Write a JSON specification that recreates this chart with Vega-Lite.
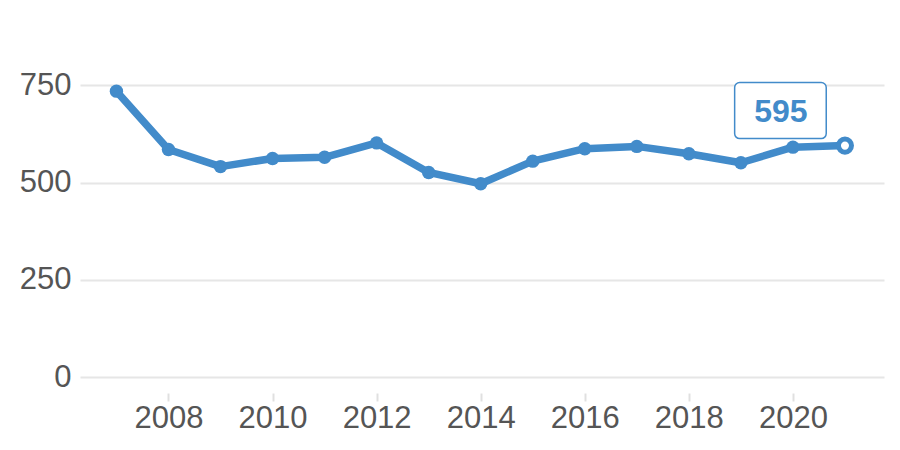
{
  "$schema": "https://vega.github.io/schema/vega-lite/v6.json",
  "width": 804,
  "height": 350,
  "autosize": "none",
  "padding": {"left": 80, "top": 27, "right": 16, "bottom": 73},
  "background": "white",
  "config": {"view": {"stroke": null}, "font": "Liberation Sans"},
  "datasets": {
    "series": [
      {"year": 2007, "value": 735},
      {"year": 2008, "value": 585},
      {"year": 2009, "value": 541},
      {"year": 2010, "value": 562},
      {"year": 2011, "value": 565},
      {"year": 2012, "value": 602},
      {"year": 2013, "value": 526},
      {"year": 2014, "value": 497},
      {"year": 2015, "value": 555},
      {"year": 2016, "value": 587},
      {"year": 2017, "value": 593},
      {"year": 2018, "value": 574},
      {"year": 2019, "value": 551},
      {"year": 2020, "value": 591},
      {"year": 2021, "value": 595}
    ],
    "last": [{"year": 2021, "value": 595}],
    "label": [{"x": 2018.88, "x2": 2020.64, "y": 613, "y2": 757, "xc": 2019.77, "yc": 682, "text": "595"}]
  },
  "layer": [
    {
      "data": {"name": "series"},
      "mark": {"type": "line", "color": "#428bca", "strokeWidth": 7.5, "strokeJoin": "round", "strokeCap": "round"},
      "encoding": {
        "x": {
          "field": "year", "type": "quantitative",
          "scale": {"domain": [2006.3, 2021.75], "nice": false, "zero": false},
          "axis": {
            "values": [2008, 2010, 2012, 2014, 2016, 2018, 2020], "format": "d", "title": null,
            "grid": false, "domain": false, "offset": 16, "tickSize": 8, "tickColor": "#e0e0e0", "tickWidth": 2,
            "labelFontSize": 31, "labelColor": "#555555", "labelPadding": 2
          }
        },
        "y": {
          "field": "value", "type": "quantitative",
          "scale": {"domain": [0, 900], "nice": false},
          "axis": {
            "values": [0, 250, 500, 750], "title": null, "domain": false, "ticks": false,
            "gridColor": "#e6e6e6", "gridWidth": 2,
            "labelFontSize": 31, "labelColor": "#555555", "labelPadding": 9
          }
        }
      }
    },
    {
      "data": {"name": "series"},
      "transform": [{"filter": "datum.year < 2021"}],
      "mark": {"type": "circle", "color": "#428bca", "size": 180, "opacity": 1},
      "encoding": {
        "x": {"field": "year", "type": "quantitative"},
        "y": {"field": "value", "type": "quantitative"}
      }
    },
    {
      "data": {"name": "last"},
      "mark": {"type": "point", "shape": "circle", "filled": true, "fill": "white", "stroke": "#428bca", "strokeWidth": 5, "size": 170, "opacity": 1},
      "encoding": {
        "x": {"field": "year", "type": "quantitative"},
        "y": {"field": "value", "type": "quantitative"}
      }
    },
    {
      "data": {"name": "label"},
      "mark": {"type": "rect", "fill": "white", "stroke": "#428bca", "strokeWidth": 1.5, "cornerRadius": 5},
      "encoding": {
        "x": {"field": "x", "type": "quantitative"},
        "x2": {"field": "x2"},
        "y": {"field": "y", "type": "quantitative"},
        "y2": {"field": "y2"}
      }
    },
    {
      "data": {"name": "label"},
      "mark": {"type": "text", "color": "#428bca", "fontSize": 32, "fontWeight": "bold", "align": "center", "baseline": "middle"},
      "encoding": {
        "x": {"field": "xc", "type": "quantitative"},
        "y": {"field": "yc", "type": "quantitative"},
        "text": {"field": "text"}
      }
    }
  ]
}
